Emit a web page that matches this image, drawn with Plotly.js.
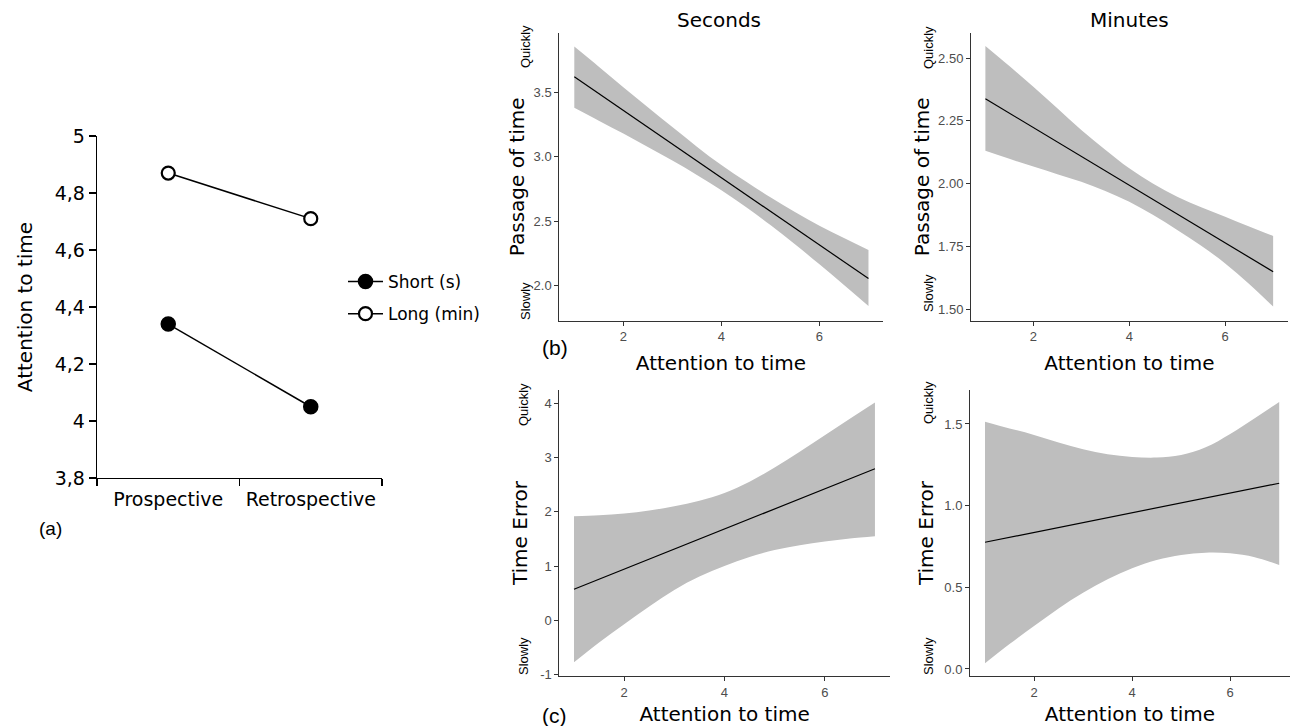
<!DOCTYPE html>
<html>
<head>
<meta charset="utf-8">
<script src="https://cdn.plot.ly/plotly-3.0.1.min.js"></script>
<style>html,body{margin:0;padding:0;background:#fff;}#chart{width:1298px;height:726px;}</style>
</head>
<body>
<div id="chart"></div>
<script>
// ---------- Data ----------
const conditions = ['Prospective', 'Retrospective'];
const shortVals = [4.34, 4.05];   // Short (s)
const longVals  = [4.87, 4.71];   // Long (min)
const attnTicksA = [3.8, 4.0, 4.2, 4.4, 4.6, 4.8, 5.0];
const attnTickTextA = ['3,8', '4', '4,2', '4,4', '4,6', '4,8', '5'];

const attnX = [1, 1.5, 2, 2.5, 3, 3.5, 4, 4.5, 5, 5.5, 6, 6.5, 7];
const lineX = [1, 7];

// Seconds – passage of time
const secPassLine  = [3.62, 2.055];
const secPassUpper = [3.855, 3.699, 3.54, 3.384, 3.23, 3.078, 2.935, 2.807, 2.685, 2.572, 2.465, 2.370, 2.277];
const secPassLower = [3.38, 3.28, 3.18, 3.076, 2.97, 2.859, 2.74, 2.610, 2.47, 2.321, 2.165, 2.005, 1.842];
// Minutes – passage of time
const minPassLine  = [2.338, 1.650];
const minPassUpper = [2.548, 2.468, 2.386, 2.300, 2.214, 2.135, 2.061, 2.000, 1.948, 1.906, 1.869, 1.830, 1.792];
const minPassLower = [2.131, 2.099, 2.068, 2.038, 2.008, 1.971, 1.928, 1.875, 1.816, 1.753, 1.683, 1.601, 1.511];
// Seconds – time error
const secErrLine  = [0.575, 2.791];
const secErrUpper = [1.918, 1.936, 1.967, 2.022, 2.101, 2.205, 2.346, 2.553, 2.816, 3.103, 3.408, 3.713, 4.012];
const secErrLower = [-0.768, -0.402, -0.066, 0.258, 0.563, 0.808, 1.003, 1.167, 1.296, 1.387, 1.455, 1.509, 1.552];
// Minutes – time error
const minErrLine  = [0.776, 1.137];
const minErrUpper = [1.514, 1.473, 1.433, 1.386, 1.345, 1.314, 1.298, 1.294, 1.310, 1.357, 1.439, 1.535, 1.635];
const minErrLower = [0.035, 0.153, 0.263, 0.371, 0.467, 0.549, 0.616, 0.667, 0.698, 0.712, 0.708, 0.684, 0.637];

const xTicks = [2, 4, 6];
const secPassTicks = [2.0, 2.5, 3.0, 3.5];
const secPassTickText = ['2.0', '2.5', '3.0', '3.5'];
const minPassTicks = [1.50, 1.75, 2.00, 2.25, 2.50];
const minPassTickText = ['1.50', '1.75', '2.00', '2.25', '2.50'];
const secErrTicks = [-1, 0, 1, 2, 3, 4];
const secErrTickText = ['-1', '0', '1', '2', '3', '4'];
const minErrTicks = [0.0, 0.5, 1.0, 1.5];
const minErrTickText = ['0.0', '0.5', '1.0', '1.5'];

// ---------- Layout helpers ----------
const W = 1298, H = 726;
const fx = p => p / W;
const fy = p => 1 - p / H;

const BAND = '#bebebe';
const TITLE_FONT = {family: 'DejaVu Sans', size: 20, color: '#000'};
const TICK_FONT = {family: 'Liberation Sans, Arial', size: 13, color: '#4d4d4d'};
const LABEL_FONT = {family: 'Liberation Sans, Arial', size: 21, color: '#000'};

function band(xa, ya, up, lo) {
  return [
    {x: attnX, y: lo, xaxis: xa, yaxis: ya, type: 'scatter', mode: 'lines',
     line: {width: 0, shape: 'spline', color: BAND}, showlegend: false, hoverinfo: 'skip'},
    {x: attnX, y: up, xaxis: xa, yaxis: ya, type: 'scatter', mode: 'lines', fill: 'tonexty',
     fillcolor: BAND, line: {width: 0, shape: 'spline', color: BAND}, showlegend: false, hoverinfo: 'skip'}
  ];
}
function fit(xa, ya, yv) {
  return {x: lineX, y: yv, xaxis: xa, yaxis: ya, type: 'scatter', mode: 'lines',
          line: {color: '#000', width: 1.2}, showlegend: false};
}

const traces = [
  {x: conditions, y: shortVals, xaxis: 'x', yaxis: 'y', type: 'scatter', mode: 'lines+markers',
   name: 'Short (s)', legendgroup: 'short', line: {color: '#000', width: 1.5},
   marker: {symbol: 'circle', size: 14, color: '#000', line: {color: '#000', width: 1.5}}},
  {x: conditions, y: longVals, xaxis: 'x', yaxis: 'y', type: 'scatter', mode: 'lines+markers',
   name: 'Long (min)', legendgroup: 'long', line: {color: '#000', width: 1.5},
   marker: {symbol: 'circle', size: 13, color: '#fff', line: {color: '#000', width: 2.2}}},
  ...band('x2', 'y2', secPassUpper, secPassLower), fit('x2', 'y2', secPassLine),
  ...band('x3', 'y3', minPassUpper, minPassLower), fit('x3', 'y3', minPassLine),
  ...band('x4', 'y4', secErrUpper, secErrLower), fit('x4', 'y4', secErrLine),
  ...band('x5', 'y5', minErrUpper, minErrLower), fit('x5', 'y5', minErrLine)
];

function ggX(domain, range, anchor, standoff) {
  return {domain: domain, range: range, anchor: anchor, showgrid: false, zeroline: false,
          showline: true, linecolor: '#333', linewidth: 1, ticks: 'outside', ticklen: 4,
          tickcolor: '#333', tickwidth: 1, tickvals: xTicks, ticktext: xTicks.map(String),
          tickfont: TICK_FONT, title: {text: 'Attention to time', font: TITLE_FONT, standoff: standoff}};
}
function ggY(domain, range, anchor, tv, tt, title, standoff) {
  return {domain: domain, range: range, anchor: anchor, showgrid: false, zeroline: false,
          showline: true, linecolor: '#333', linewidth: 1, ticks: 'outside', ticklen: 4,
          tickcolor: '#333', tickwidth: 1, tickvals: tv, ticktext: tt, tickfont: TICK_FONT,
          title: {text: title, font: TITLE_FONT, standoff: standoff}};
}

const layout = {
  width: W, height: H, margin: {l: 0, r: 0, t: 0, b: 0},
  paper_bgcolor: '#fff', plot_bgcolor: 'rgba(0,0,0,0)',
  showlegend: true,
  legend: {x: fx(343), y: fy(264), xanchor: 'left', yanchor: 'top', bgcolor: 'rgba(0,0,0,0)',
           font: {family: 'DejaVu Sans', size: 17, color: '#000'}, traceorder: 'grouped',
           itemwidth: 35, tracegroupgap: 7},
  // Panel (a)
  xaxis: {domain: [fx(97), fx(382)], anchor: 'y', type: 'category', range: [-0.5, 1.5],
          showgrid: false, zeroline: false, showline: true, linecolor: '#000', linewidth: 1.3,
          ticks: 'outside', tickson: 'boundaries', ticklen: 7, tickcolor: '#000', tickwidth: 1.3,
          ticklabelstandoff: 4, tickangle: 0,
          tickfont: {family: 'DejaVu Sans', size: 19, color: '#000'}},
  yaxis: {domain: [fy(478), fy(136)], anchor: 'x', range: [3.8, 5.0],
          showgrid: false, zeroline: false, showline: true, linecolor: '#000', linewidth: 1.3,
          ticks: 'outside', ticklen: 7, tickcolor: '#000', tickwidth: 1.3,
          tickvals: attnTicksA, ticktext: attnTickTextA,
          tickfont: {family: 'DejaVu Sans', size: 19, color: '#000'},
          title: {text: 'Attention to time', font: {family: 'DejaVu Sans', size: 20, color: '#000'}, standoff: 16}},
  // Panel (b) seconds / minutes
  xaxis2: ggX([fx(559.3), fx(882.7)], [0.694, 7.29], 'y2', 12),
  yaxis2: ggY([fy(320.7), fy(33)], [1.728, 3.96], 'x2', secPassTicks, secPassTickText, 'Passage of time', 3),
  xaxis3: ggX([fx(971), fx(1288)], [0.70, 7.31], 'y3', 12),
  yaxis3: ggY([fy(320.7), fy(33)], [1.455, 2.5995], 'x3', minPassTicks, minPassTickText, 'Passage of time', 3),
  // Panel (c)
  xaxis4: ggX([fx(559.3), fx(890)], [0.707, 7.30], 'y4', 8),
  yaxis4: ggY([fy(676), fy(390)], [-1.02, 4.24], 'x4', secErrTicks, secErrTickText, 'Time Error', 7),
  xaxis5: ggX([fx(970), fx(1290)], [0.694, 7.22], 'y5', 8),
  yaxis5: ggY([fy(676), fy(390)], [-0.043, 1.708], 'x5', minErrTicks, minErrTickText, 'Time Error', 5),
  annotations: [
    {text: 'Seconds', x: fx(719), y: fy(20), xref: 'paper', yref: 'paper', showarrow: false,
     xanchor: 'center', yanchor: 'middle', font: TITLE_FONT},
    {text: 'Minutes', x: fx(1129), y: fy(20), xref: 'paper', yref: 'paper', showarrow: false,
     xanchor: 'center', yanchor: 'middle', font: TITLE_FONT},
    {text: '(a)', x: fx(50), y: fy(528), xref: 'paper', yref: 'paper', showarrow: false,
     xanchor: 'center', yanchor: 'middle', font: {family: 'Liberation Sans, Arial', size: 19, color: '#000'}},
    {text: '(b)', x: fx(555), y: fy(347), xref: 'paper', yref: 'paper', showarrow: false,
     xanchor: 'center', yanchor: 'middle', font: LABEL_FONT},
    {text: '(c)', x: fx(554), y: fy(715), xref: 'paper', yref: 'paper', showarrow: false,
     xanchor: 'center', yanchor: 'middle', font: LABEL_FONT},
    ...[[525, 47, 'Quickly'], [525, 301, 'Slowly'], [928, 47, 'Quickly'], [928, 293, 'Slowly'],
        [523, 405, 'Quickly'], [523, 656, 'Slowly'], [928, 402, 'Quickly'], [928, 656, 'Slowly']]
      .map(a => ({text: a[2], x: fx(a[0]), y: fy(a[1]), xref: 'paper', yref: 'paper', showarrow: false,
                  textangle: -90, xanchor: 'center', yanchor: 'middle',
                  font: {family: 'Liberation Sans, Arial', size: 13, color: '#000'}}))
  ]
};

Plotly.newPlot('chart', traces, layout, {displayModeBar: false, staticPlot: true});
</script>
</body>
</html>
